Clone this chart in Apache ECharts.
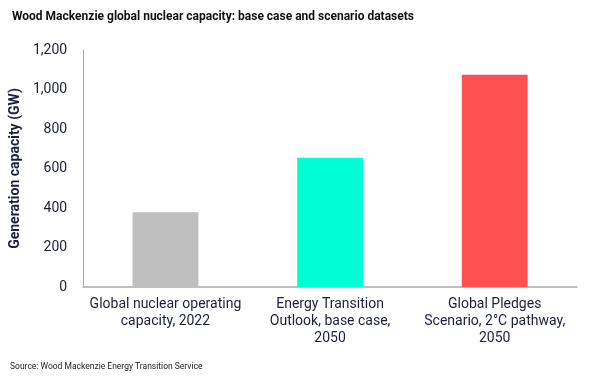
<!DOCTYPE html>
<html><head><meta charset="utf-8">
<script src="https://cdn.jsdelivr.net/npm/echarts@6/dist/echarts.min.js"></script>
<style>html,body{margin:0;padding:0;background:#fff}#c{width:594px;height:376px}</style>
</head><body><div id="c"></div>
<script>
const categories = ['Global nuclear operating\ncapacity, 2022', 'Energy Transition\nOutlook, base case,\n2050', 'Global Pledges\nScenario, 2°C pathway,\n2050'];
const values = [378, 655, 1075];
const barColors = ['#bfbfbf', '#00ffd5', '#ff5050'];
const yTicks = [0, 200, 400, 600, 800, 1000, 1200];
const navy = '#1b1f3b';
const chart = echarts.init(document.getElementById('c'));
chart.setOption({
  animation: false,
  title: [{
    text: 'Wood Mackenzie global nuclear capacity: base case and scenario datasets',
    left: 7, top: 6,
    textStyle: {fontFamily: 'Roboto', fontWeight: 'bold', fontSize: 12, color: '#111'}
  }, {
    text: 'Source: Wood Mackenzie Energy Transition Service',
    left: 5, top: 357,
    textStyle: {fontFamily: 'Roboto', fontWeight: 'normal', fontSize: 8.5, color: '#222'}
  }],
  grid: {left: 79, right: 17, top: 50, bottom: 89},
  xAxis: {
    type: 'category', data: categories,
    axisLine: {lineStyle: {color: '#a8abb5', width: 1.5}},
    axisTick: {show: false},
    axisLabel: {interval: 0, fontFamily: 'Roboto', fontSize: 14, color: navy, lineHeight: 17, margin: 9}
  },
  yAxis: {
    type: 'value', min: 0, max: 1200, interval: 200,
    name: 'Generation capacity (GW)', nameLocation: 'middle', nameGap: 57,
    nameTextStyle: {fontFamily: 'Roboto', fontWeight: 'bold', fontSize: 14, color: navy},
    axisLine: {show: true, lineStyle: {color: '#a8abb5', width: 1}},
    axisTick: {show: false},
    splitLine: {show: false},
    axisLabel: {fontFamily: 'Roboto', fontSize: 14, color: navy, margin: 16,
      formatter: v => yTicks.includes(v) ? v.toLocaleString('en-US') : ''}
  },
  series: [{
    type: 'bar', barWidth: '40%',
    data: values.map((v, i) => ({value: v, itemStyle: {color: barColors[i]}}))
  }]
});
</script></body></html>
